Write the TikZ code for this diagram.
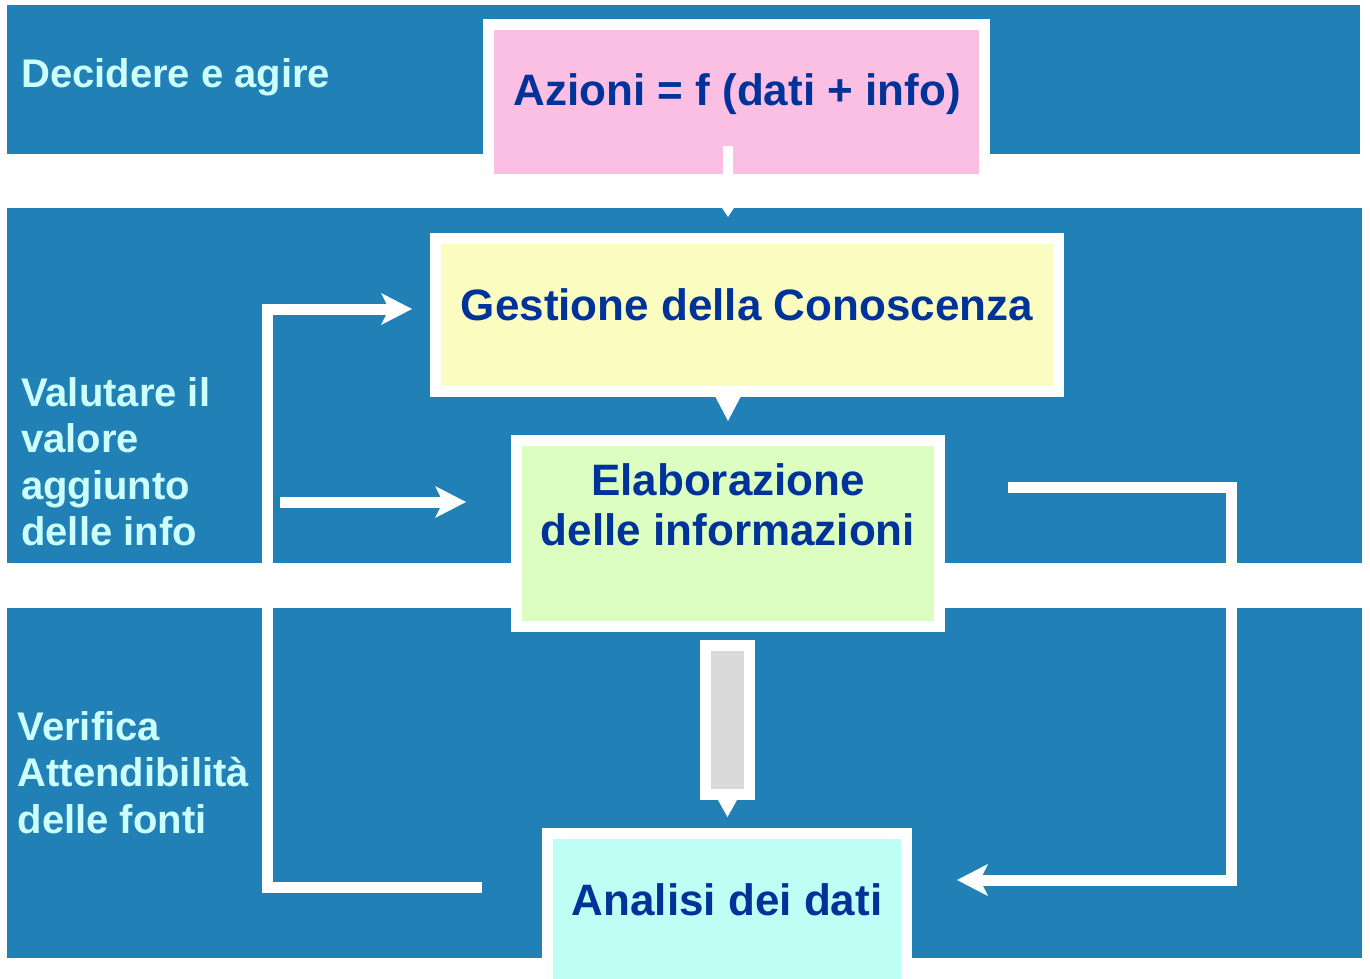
\documentclass[tikz,border=0pt]{standalone}
\usepackage{fontspec}
\setmainfont{Liberation Sans}
\usetikzlibrary{arrows.meta,calc}
\definecolor{bandblue}{HTML}{2180B5}
\definecolor{labcol}{HTML}{CCFFFF}
\definecolor{txtblue}{HTML}{003399}
\definecolor{pinkfill}{HTML}{FBBFE3}
\definecolor{yellowfill}{HTML}{FBFCC0}
\definecolor{greenfill}{HTML}{DCFEC0}
\definecolor{cyanfill}{HTML}{BEFEF4}
\definecolor{greyfill}{HTML}{D9D9D9}
\begin{document}
\begin{tikzpicture}[x=1pt,y=-1pt,
  band/.style={fill=bandblue},
  boxnode/.style={draw=white, line width=11pt, outer sep=5.5pt, inner sep=0pt, rectangle},
  lab/.style={text=labcol, inner sep=0pt, font=\fontsize{40}{46.4}\selectfont\bfseries},
  txt/.style={text=txtblue, inner sep=0pt, font=\fontsize{44}{50}\selectfont\bfseries},
  flow/.style={draw=white, line width=11pt, -{Stealth[length=31pt,width=32pt,inset=8pt,line width=0pt]}},
]
\clip (0,0) rectangle (1370,978);
\fill[white] (0,0) rectangle (1370,978);
% bands
\fill[band] (7,5) rectangle (1360,154);
\fill[band] (7,208) rectangle (1362,563);
\fill[band] (7,608) rectangle (1362,958);

% boxes
\node[boxnode, fill=pinkfill, minimum width=496pt, minimum height=155pt] (azioni) at (736.5,102) {};
\node[boxnode, fill=yellowfill, minimum width=623pt, minimum height=153pt] (gest) at (747,315) {};
\node[boxnode, fill=greenfill, minimum width=423pt, minimum height=186pt] (elab) at (728,533.5) {};
\node[boxnode, fill=greyfill, minimum width=44pt, minimum height=149pt] (grey) at (727.5,720) {};
\node[boxnode, fill=cyanfill, minimum width=359pt, minimum height=166.5pt] (analisi) at (727,916.75) {};

% texts in boxes
\node[txt, anchor=base] (tAz) at (737,105.5) {Azioni = f (dati + info)};
\node[txt, anchor=base] (tGe) at (747,320) {Gestione della Conoscenza};
\node[txt, anchor=north, align=center] (tEl) at (728,463.5) {Elaborazione\\delle informazioni};
\node[txt, anchor=base] (tAn) at (727,915) {Analisi dei dati};

% labels
\node[lab, anchor=base west] (lab1) at (21,87) {Decidere e agire};
\node[lab, anchor=north west, align=left] (lab2) at (21,377.4) {Valutare il\\valore\\aggiunto\\delle info};
\node[lab, anchor=north west, align=left] (lab3) at (17.5,711) {Verifica\\Attendibilità\\delle fonti};

% small down arrows
\draw[draw=white, line width=10pt, -{Triangle[length=10pt,width=13pt,line width=0pt]}, shorten >=16pt]
  ($(azioni.south -| elab.north)+(0,-39)$) -- (gest.north -| elab.north);
\draw[draw=white, line width=10pt, -{Triangle[length=24pt,width=25pt,line width=0pt]}, shorten >=14pt]
  ($(gest.south -| elab.north)+(0,-7)$) -- (elab.north);
\draw[draw=white, line width=10pt, -{Triangle[length=17pt,width=19pt,line width=0pt]}, shorten >=11pt]
  ($(grey.south)+(0,-5)$) -- (analisi.north -| grey.south);

% feedback connectors
\coordinate (lstart) at (482,887);
\coordinate (gin) at (412,309);
\draw[flow] (lstart) -| (267,309) -- (gin);
\coordinate (mstart) at (280,502);
\coordinate (ein) at (466,502);
\draw[flow] (mstart) -- (ein);
\coordinate (rstart) at (1008,487);
\coordinate (ain) at (957,880);
\draw[flow] (rstart) -| (1231,880) -- (ain);
\end{tikzpicture}
\end{document}
